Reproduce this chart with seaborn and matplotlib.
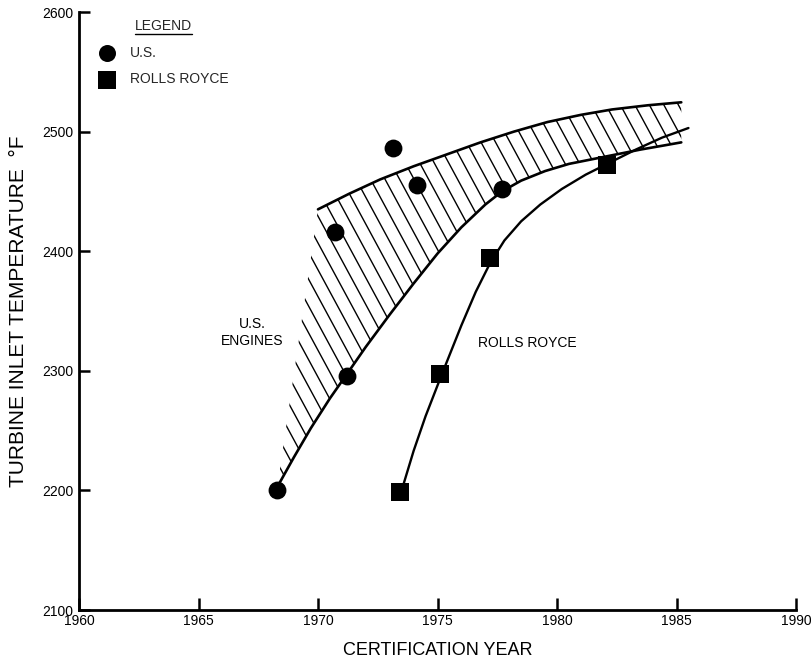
import numpy as np
import pandas as pd
import matplotlib
matplotlib.use("Agg")
import matplotlib.pyplot as plt
import seaborn as sns
from matplotlib.collections import LineCollection
from matplotlib.lines import Line2D

# ---------------- data ----------------
us_year = [1968.3, 1970.7, 1971.2, 1973.15, 1974.15, 1977.7]
us_temp = [2200, 2416, 2296, 2486, 2455, 2452]

rr_year = [1973.45, 1975.1, 1977.2, 1982.1]
rr_temp = [2199, 2297, 2394, 2472]

# upper boundary of the U.S. engines band
band_hi_year = [1970.0, 1971.3, 1972.6, 1974.0, 1975.4, 1976.8, 1978.2, 1979.6, 1981.0, 1982.3, 1983.8, 1985.2]
band_hi_temp = [2435, 2448, 2460, 2471, 2481, 2491, 2500, 2508, 2514, 2518.5, 2522, 2524.5]

# lower boundary of the U.S. engines band
band_lo_year = [1968.3, 1969.0, 1969.7, 1970.5, 1971.2, 1972.0, 1973.0, 1974.0, 1975.0, 1976.0,
                1977.0, 1977.7, 1978.5, 1979.5, 1980.5, 1981.5, 1982.5, 1983.5, 1984.5, 1985.2]
band_lo_temp = [2203, 2228, 2252, 2277, 2297, 2320, 2347, 2373, 2398, 2420,
                2439, 2450, 2459, 2467, 2473, 2477, 2481, 2485, 2488.5, 2491]

# Rolls Royce trend curve
rr_curve_year = [1973.5, 1974.0, 1974.5, 1975.2, 1976.0, 1976.6, 1977.2, 1977.8, 1978.5, 1979.3,
                 1980.2, 1981.2, 1982.2, 1983.3, 1984.4, 1985.5]
rr_curve_temp = [2200, 2233, 2262, 2298, 2338, 2366, 2390, 2409, 2425, 2439,
                 2452, 2464, 2474, 2485, 2495, 2503]

x_ticks = [1960, 1965, 1970, 1975, 1980, 1985, 1990]
y_ticks = [2100, 2200, 2300, 2400, 2500, 2600]

# ---------------- style ----------------
sns.set_theme(style="white")
plt.rcParams["font.family"] = ["Liberation Sans", "DejaVu Sans"]

W, H = 811, 669
fig = plt.figure(figsize=(W / 100, H / 100), dpi=100)
L, R, T, B = 79, 796, 12, 610
ax = fig.add_axes([L / W, 1 - B / H, (R - L) / W, (B - T) / H])

ink = "black"

# curves
line_kw = dict(ax=ax, color=ink, sort=False, estimator=None)
sns.lineplot(x=band_hi_year, y=band_hi_temp, lw=1.9, **line_kw)
sns.lineplot(x=band_lo_year, y=band_lo_temp, lw=1.9, **line_kw)
sns.lineplot(x=rr_curve_year, y=rr_curve_temp, lw=1.7, **line_kw)
for ln in ax.get_lines():
    ln.set_solid_joinstyle("round")

ax.set_xlim(1960, 1990)
ax.set_ylim(2100, 2600)

# hatched band: polygon from the two boundaries, hatched with steep lines
poly_x = band_hi_year + band_lo_year[::-1]
poly_y = band_hi_temp + band_lo_temp[::-1]
patch = ax.fill(poly_x, poly_y, facecolor="none", edgecolor="none")[0]

ax_w_px, ax_h_px = R - L, B - T
spacing_px = 14.5
steep = 1.85  # vertical px per horizontal px
segs = []
for off in np.arange(-400, ax_w_px + 400, spacing_px):
    u0 = off / ax_w_px
    u1 = (off + ax_h_px * 1.4 / steep) / ax_w_px
    segs.append([(u0, 1.2), (u1, -0.2)])
lc = LineCollection(segs, colors=ink, linewidths=1.0, transform=ax.transAxes)
ax.add_collection(lc)
lc.set_clip_path(patch)

# markers
sns.scatterplot(x=us_year, y=us_temp, ax=ax, marker="o", s=165, color=ink,
                edgecolor=ink, linewidth=0, label="U.S.", zorder=5)
sns.scatterplot(x=rr_year, y=rr_temp, ax=ax, marker="s", s=150, color=ink,
                edgecolor=ink, linewidth=0, label="ROLLS ROYCE", zorder=5)

# annotations
ax.text(1967.25, 2332, "U.S.\nENGINES", ha="center", va="center", fontsize=10,
        linespacing=1.3, color=ink)
ax.text(1978.75, 2323, "ROLLS ROYCE", ha="center", va="center", fontsize=10, color=ink)

# axes styling
for s in ["top", "right"]:
    ax.spines[s].set_visible(False)
for s in ["left", "bottom"]:
    ax.spines[s].set_linewidth(2.0)
    ax.spines[s].set_color(ink)
ax.set_xticks(x_ticks)
ax.set_yticks(y_ticks)
ax.set_xticklabels([str(v) for v in x_ticks])
ax.set_yticklabels([str(v) for v in y_ticks])
ax.tick_params(axis="both", direction="in", length=9, width=1.8, color=ink,
               labelsize=10, labelcolor=ink, bottom=True, left=True)
ax.tick_params(axis="x", pad=3)
ax.tick_params(axis="y", pad=4, length=8)
ax.set_xlabel("CERTIFICATION YEAR", fontsize=13, labelpad=10, color=ink)
ax.set_ylabel("TURBINE INLET TEMPERATURE  °F", fontsize=15, labelpad=10, color=ink)
ax.grid(False)

leg = ax.legend(loc="upper left", bbox_to_anchor=(0.028, 0.988), frameon=False,
                title="LEGEND", fontsize=10, title_fontsize=10,
                handlelength=1.2, handletextpad=1.0, labelspacing=0.9,
                borderaxespad=0.0, borderpad=0.0, alignment="center")
for h in leg.legend_handles:
    h.set_sizes([150])

fig.canvas.draw()
tb = leg.get_title().get_window_extent(fig.canvas.get_renderer())
inv = fig.transFigure.inverted()
(x0, y0) = inv.transform((tb.x0, tb.y0 - 1.0))
(x1, _) = inv.transform((tb.x1, tb.y0 - 1.0))
fig.add_artist(Line2D([x0, x1], [y0, y0], color=ink, lw=1.0, transform=fig.transFigure))

fig.savefig("out.png", dpi=100)
